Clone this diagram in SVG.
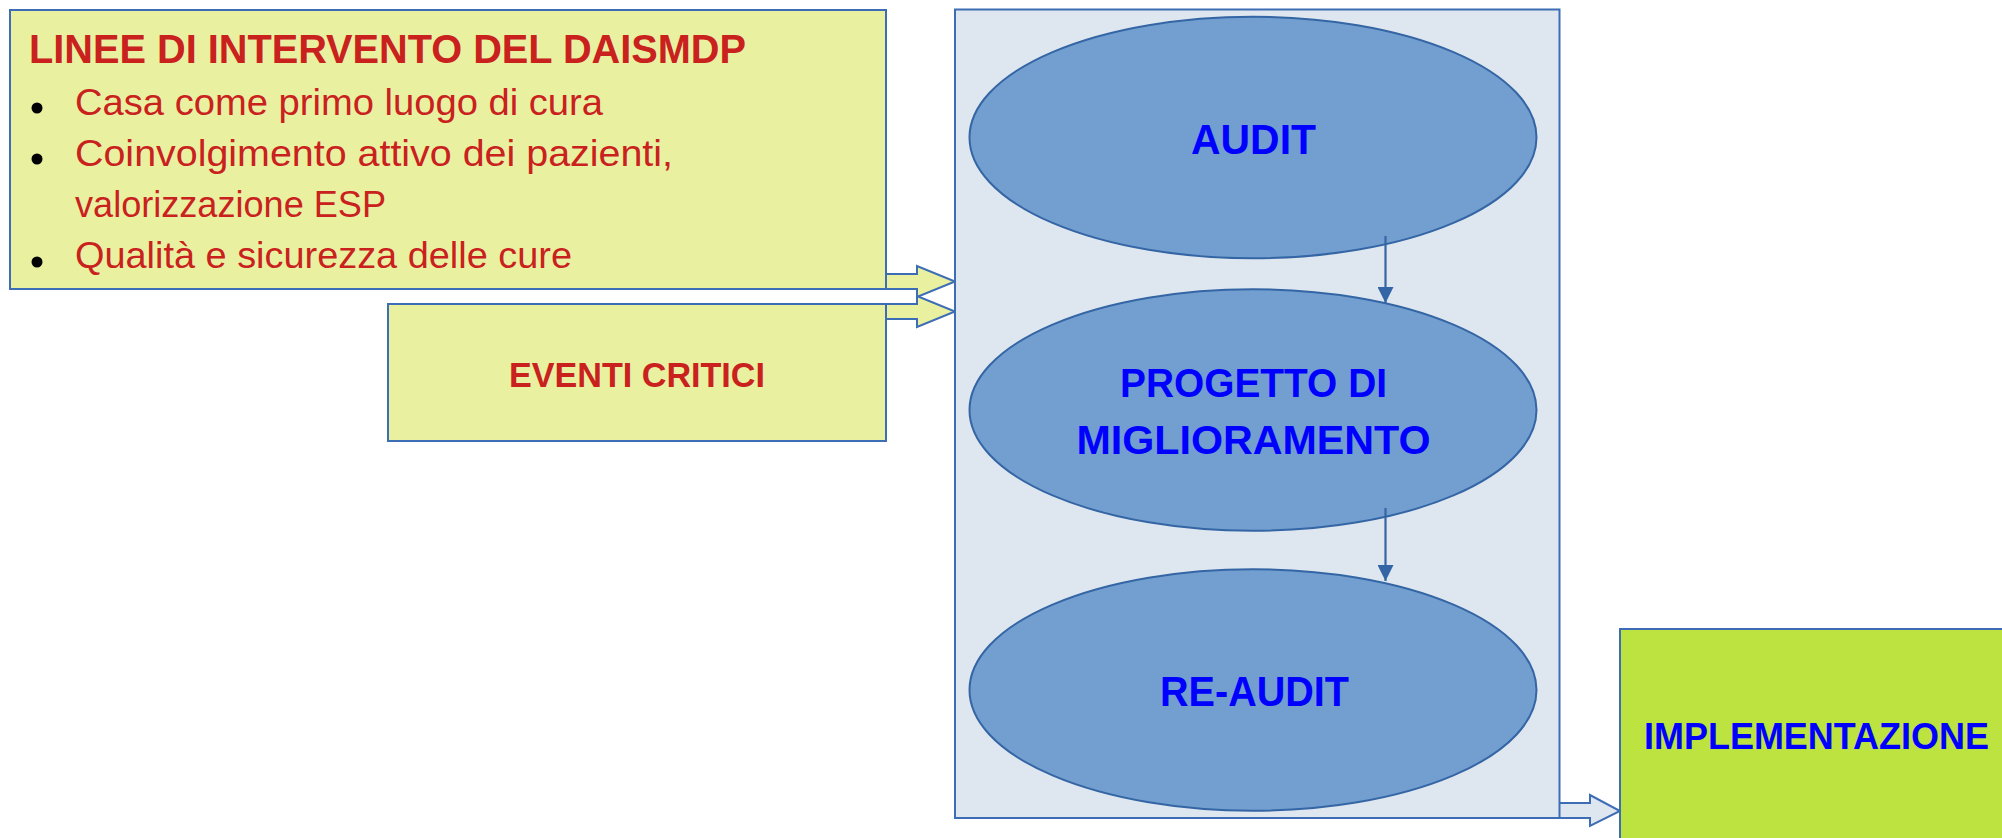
<svg xmlns="http://www.w3.org/2000/svg" width="2002" height="838" viewBox="0 0 2002 838">
<style>
.box{stroke:#3d6db4;stroke-width:2}
.yel{fill:#e9f1a1}
.red{fill:#c9211e;font-family:"Liberation Sans",Arial,sans-serif}
.blu{fill:#0000ff;font-family:"Liberation Sans",Arial,sans-serif;font-weight:bold;text-anchor:middle}
.ell{fill:#729fcf;stroke:#3465a4;stroke-width:2}
.con{stroke:#3465a4;stroke-width:2.2;fill:none}
</style>
<defs>
<marker id="ah" markerUnits="userSpaceOnUse" markerWidth="18" markerHeight="16" refX="16" refY="8" orient="auto">
<path d="M0,0 L16,8 L0,16 z" fill="#3465a4"/>
</marker>
</defs>
<rect width="2002" height="838" fill="#ffffff"/>
<g id="connectors">
<path class="box yel" d="M802,274 L917,274 L917,266 L955,281.5 L917,297 L917,289 L802,289 z"/>
<path class="box yel" d="M802,304 L917,304 L917,296 L955,311.5 L917,327 L917,319 L802,319 z"/>
<path class="box" fill="#dee6ef" d="M1498,803 L1590,803 L1590,795 L1620,811 L1590,826 L1590,818 L1498,818 z"/>
</g>
<g id="linee">
<rect class="box yel" x="10" y="10" width="876" height="279"/>
<text class="red" x="29" y="63" font-size="41" font-weight="bold" textLength="717" lengthAdjust="spacingAndGlyphs">LINEE DI INTERVENTO DEL DAISMDP</text>
<circle cx="37" cy="108" r="5.5" fill="#000"/>
<circle cx="37" cy="159" r="5.5" fill="#000"/>
<circle cx="37" cy="262" r="5.5" fill="#000"/>
<text class="red" x="75" y="115" font-size="37" textLength="528" lengthAdjust="spacingAndGlyphs">Casa come primo luogo di cura</text>
<text class="red" x="75" y="166" font-size="37" textLength="598" lengthAdjust="spacingAndGlyphs">Coinvolgimento attivo dei pazienti,</text>
<text class="red" x="75" y="217" font-size="37" textLength="311" lengthAdjust="spacingAndGlyphs">valorizzazione ESP</text>
<text class="red" x="75" y="268" font-size="37" textLength="497" lengthAdjust="spacingAndGlyphs">Qualità e sicurezza delle cure</text>
</g>
<g id="eventi">
<rect class="box yel" x="388" y="304" width="498" height="137"/>
<text class="red" x="637" y="387" font-size="35" font-weight="bold" text-anchor="middle" textLength="256" lengthAdjust="spacingAndGlyphs">EVENTI CRITICI</text>
</g>
<g id="container">
<rect class="box" fill="#dee6ef" x="955" y="9.5" width="604.5" height="808.5"/>
</g>
<g id="audit">
<ellipse class="ell" cx="1253" cy="137.5" rx="283.5" ry="120.8"/>
<text class="blu" x="1253.5" y="154" font-size="42" textLength="125" lengthAdjust="spacingAndGlyphs">AUDIT</text>
</g>
<g id="progetto">
<ellipse class="ell" cx="1253" cy="410" rx="283.5" ry="120.8"/>
<text class="blu" x="1253.5" y="397" font-size="41" textLength="267" lengthAdjust="spacingAndGlyphs">PROGETTO DI</text>
<text class="blu" x="1253.5" y="454" font-size="41" textLength="354" lengthAdjust="spacingAndGlyphs">MIGLIORAMENTO</text>
</g>
<g id="reaudit">
<ellipse class="ell" cx="1253" cy="690" rx="283.5" ry="120.8"/>
<text class="blu" x="1254.5" y="706" font-size="42" textLength="189" lengthAdjust="spacingAndGlyphs">RE-AUDIT</text>
</g>
<g id="flow">
<line class="con" x1="1385.5" y1="236" x2="1385.5" y2="303" marker-end="url(#ah)"/>
<line class="con" x1="1385.5" y1="508" x2="1385.5" y2="581" marker-end="url(#ah)"/>
</g>
<g id="implementazione">
<rect class="box" fill="#bce33f" x="1620" y="629" width="400" height="230"/>
<text class="blu" x="1816.5" y="749" font-size="36" textLength="345" lengthAdjust="spacingAndGlyphs">IMPLEMENTAZIONE</text>
</g>
</svg>
